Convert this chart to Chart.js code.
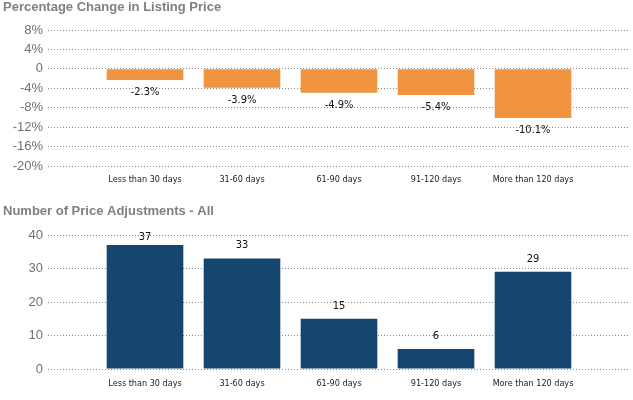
<!DOCTYPE html>
<html>
<head>
<meta charset="utf-8">
<script src="https://cdn.jsdelivr.net/npm/chart.js@4"></script>
<style>
  body { margin: 0; background: #fff; }
  canvas { display: block; }
</style>
</head>
<body>
<canvas id="pctChart" width="633" height="200"></canvas>
<canvas id="countChart" width="633" height="200"></canvas>
<script>
const categories = ["Less than 30 days", "31-60 days", "61-90 days", "91-120 days", "More than 120 days"];
const pctChange = [-2.3, -3.9, -4.9, -5.4, -10.1];
const adjustments = [37, 33, 15, 6, 29];
const pctTicks = [8, 4, 0, -4, -8, -12, -16, -20];
const countTicks = [40, 30, 20, 10, 0];

// draws the value next to each bar (below for negatives, above for positives)
const barLabels = {
  id: "barLabels",
  afterDatasetsDraw(chart, args, opts) {
    const ctx = chart.ctx;
    const area = chart.chartArea;
    const meta = chart.getDatasetMeta(0);
    ctx.save();
    ctx.font = '11px "DejaVu Sans Condensed"';
    ctx.fillStyle = "#111";
    ctx.textAlign = "center";
    ctx.textBaseline = "middle";
    meta.data.forEach((bar, i) => {
      const v = chart.data.datasets[0].data[i].y;
      let y = v < 0 ? bar.y + 12 : bar.y - 13;
      y = Math.max(y, area.top + 2);
      ctx.fillText(opts.format(v), bar.x, y);
    });
    ctx.restore();
  }
};

function makeChart(id, title, values, color, yTicks, yFmt, labelFmt, pad) {
  const ctx = document.getElementById(id).getContext("2d");
  return new Chart(ctx, {
    type: "bar",
    data: {
      datasets: [{
        data: values.map((v, i) => ({ x: i, y: v })),
        backgroundColor: color,
        categoryPercentage: 1,
        barPercentage: 0.79
      }]
    },
    plugins: [barLabels],
    options: {
      responsive: false,
      animation: false,
      layout: { padding: { left: 3, right: 3, top: 0, bottom: 0 } },
      plugins: {
        legend: { display: false },
        tooltip: { enabled: false },
        title: {
          display: true,
          text: title,
          align: "start",
          color: "#808080",
          font: { family: "Liberation Sans", size: 13, weight: "bold" },
          padding: { top: pad.titleTop, bottom: pad.titleBottom }
        },
        barLabels: { format: labelFmt }
      },
      scales: {
        x: {
          type: "linear",
          min: -1,
          max: 5,
          offset: false,
          afterBuildTicks: axis => {
            axis.ticks = categories.map((c, i) => ({ value: i }));
          },
          afterFit: axis => { axis.height = pad.xHeight; },
          grid: { display: false, drawTicks: false },
          border: { display: false },
          ticks: {
            padding: pad.xPad,
            maxRotation: 0,
            autoSkip: false,
            color: "#222",
            font: { family: "DejaVu Sans Condensed", size: 9 },
            callback: v => categories[v] || ""
          }
        },
        y: {
          min: yTicks[yTicks.length - 1],
          max: yTicks[0],
          afterBuildTicks: axis => {
            axis.ticks = yTicks.map(v => ({ value: v }));
          },
          afterFit: axis => { axis.width = 45; },
          grid: {
            color: "#8c8c8c",
            lineWidth: 1,
            drawTicks: false
          },
          border: { display: false, dash: [1, 2] },
          ticks: {
            padding: 5,
            color: "#707070",
            font: { family: "Liberation Sans", size: 13 },
            callback: yFmt
          }
        }
      }
    }
  });
}

makeChart("pctChart", "Percentage Change in Listing Price", pctChange, "#F0943F", pctTicks,
  v => v === 0 ? "0" : v + "%",
  v => v.toFixed(1) + "%",
  { titleTop: 0, titleBottom: 14.4, xHeight: 34, xPad: 8.6 });

makeChart("countChart", "Number of Price Adjustments - All", adjustments, "#15466F", countTicks,
  v => String(v),
  v => String(v),
  { titleTop: 4, titleBottom: 15.4, xHeight: 31, xPad: 9.6 });
</script>
</body>
</html>
